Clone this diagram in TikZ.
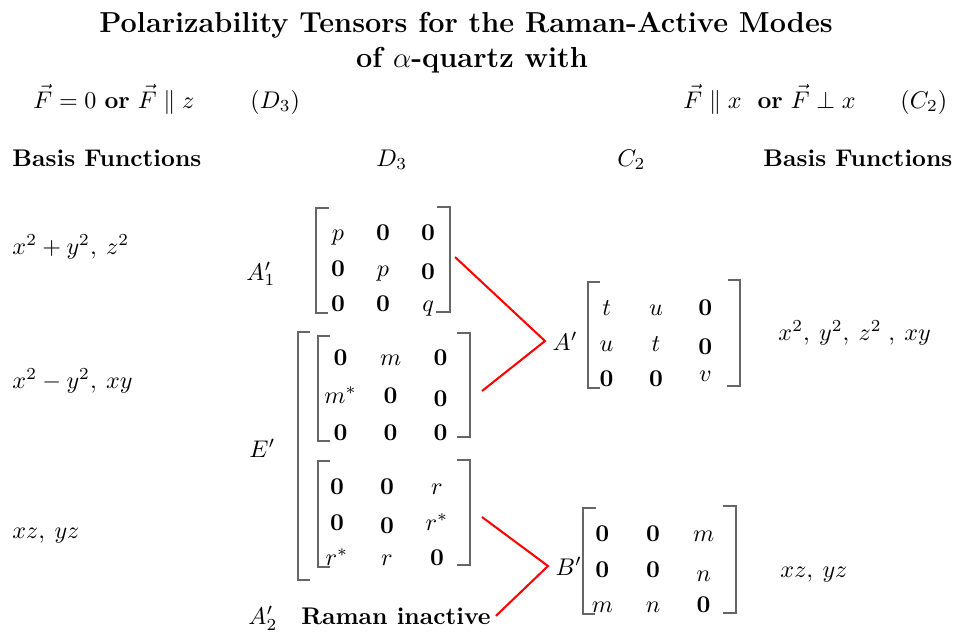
\documentclass[tikz,border=0pt]{standalone}
\usepackage{amsmath,amssymb}
\usetikzlibrary{matrix}
\tikzset{
  title/.style={font=\bfseries\large,anchor=base,inner sep=0pt},
  lbl/.style={anchor=base west,inner sep=0pt},
  tensor/.style={matrix of math nodes,inner sep=0pt,
    nodes={text height=6pt,text depth=6pt,inner sep=0pt,anchor=base},
    row sep={14.7pt,between origins},column sep={20.75pt,between origins}},
  brk/.style={draw=black!60,line width=.55pt},
  link/.style={draw=red,line width=.85pt},
}

\begin{document}
\begin{tikzpicture}[x=0.415pt,y=-0.415pt]
  \useasboundingbox (0,0) rectangle (962,635);
  % title and conditions
  \node[title] (title) at (466,32) {Polarizability Tensors for the Raman-Active Modes};
  \node[title] (title2) at (472,67) {of $\alpha$-quartz with};
  \node[lbl] (condl) at (33,108) {$\vec F=0$ \textbf{or} $\vec F\parallel z$};
  \node[lbl] (groupl) at (250,108) {$(D_3)$};
  \node[lbl] (condr) at (683,108) {$\vec F\parallel x$\ \ \textbf{or} $\vec F\perp x$};
  \node[lbl] (groupr) at (900,108) {$(C_2)$};
  % column heads
  \node[lbl] (basisl) at (12,166) {\textbf{Basis Functions}};
  \node[lbl] (headD) at (376,166) {$D_3$};
  \node[lbl] (headC) at (617,166) {$C_2$};
  \node[lbl] (basisr) at (763,166) {\textbf{Basis Functions}};
  % basis functions
  \node[lbl] (fA1) at (12,254) {$x^2+y^2,\:z^2$};
  \node[lbl] (fE1) at (12,388) {$x^2-y^2,\:xy$};
  \node[lbl] (fE2) at (12,538) {$xz,\:yz$};
  \node[lbl] (fAp) at (778,340) {$x^2,\:y^2,\:z^2\;,\:xy$};
  \node[lbl] (fBp) at (780,577) {$xz,\:yz$};
  % D3 modes
  \node[lbl] (A1) at (246,280) {$A_1'$};
  \node[lbl] (E) at (249,457) {$E'$};
  \node[lbl] (A2) at (248,624) {$A_2'$};
  \node[lbl,inner sep=2pt] (inactive) at (296,624) {\textbf{Raman inactive}};
  \matrix[tensor,column sep={18.7pt,between origins}] (mA1) at (383,276) {
    p & \mathbf{0} & \mathbf{0} \\
    \mathbf{0} & p & |[yshift=-1.5pt]| \mathbf{0} \\
    \mathbf{0} & \mathbf{0} & q \\
  };
  \draw[brk] (329,208) -- (316,208) -- (316,313) -- (328,313);
  \draw[brk] (437,207) -- (450,207) -- (450,312) -- (436,312);
  \matrix[tensor,row sep={15.4pt,between origins}] (mE1) at (386,403) {
    \mathbf{0} & m & \mathbf{0} \\
    m^* & \mathbf{0} & |[yshift=-1.5pt]| \mathbf{0} \\
    \mathbf{0} & \mathbf{0} & \mathbf{0} \\
  };
  \draw[brk] (330,336) -- (318,336) -- (318,441) -- (330,441);
  \draw[brk] (457,333) -- (470,333) -- (470,437) -- (457,437);
  \matrix[tensor] (mE2) at (387,530) {
    \mathbf{0} & \mathbf{0} & r \\
    \mathbf{0} & |[yshift=-1.5pt]| \mathbf{0} & r^* \\
    r^* & r & \mathbf{0} \\
  };
  \draw[brk] (330,461) -- (318,461) -- (318,567) -- (330,567);
  \draw[brk] (457,460) -- (470,460) -- (470,565) -- (457,565);
  \draw[brk] (310,332) -- (298,332) -- (298,580) -- (310,580);
  % C2 modes
  \node[anchor=west,inner sep=3pt] (Ap) at (545,341) {$A'$};
  \node[anchor=west,inner sep=3pt] (Bp) at (548,566) {$B'$};
  \matrix[tensor,column sep={20.5pt,between origins}] (mAp) at (656,351) {
    t & u & \mathbf{0} \\
    u & t & |[yshift=-1.5pt]| \mathbf{0} \\
    \mathbf{0} & \mathbf{0} & |[yshift=2pt]| v \\
  };
  \draw[brk] (600,282) -- (588,282) -- (588,388) -- (600,388);
  \draw[brk] (728,280) -- (740,280) -- (740,386) -- (727,386);
  \matrix[tensor,column sep={21pt,between origins}] (mBp) at (653,577) {
    \mathbf{0} & \mathbf{0} & m \\
    \mathbf{0} & \mathbf{0} & |[yshift=-2pt]| n \\
    m & n & \mathbf{0} \\
  };
  \draw[brk] (596,508) -- (583,508) -- (583,614) -- (595,614);
  \draw[brk] (723,506) -- (736,506) -- (736,613) -- (723,613);
  % correlation
  \coordinate (a1end) at (455,257);
  \coordinate (e1end) at (482,391);
  \coordinate (e2end) at (482,517);
  \draw[link] (a1end) -- (Ap.west) -- (e1end);
  \draw[link] (e2end) -- (Bp.west) -- (inactive.east);
\end{tikzpicture}
\end{document}
